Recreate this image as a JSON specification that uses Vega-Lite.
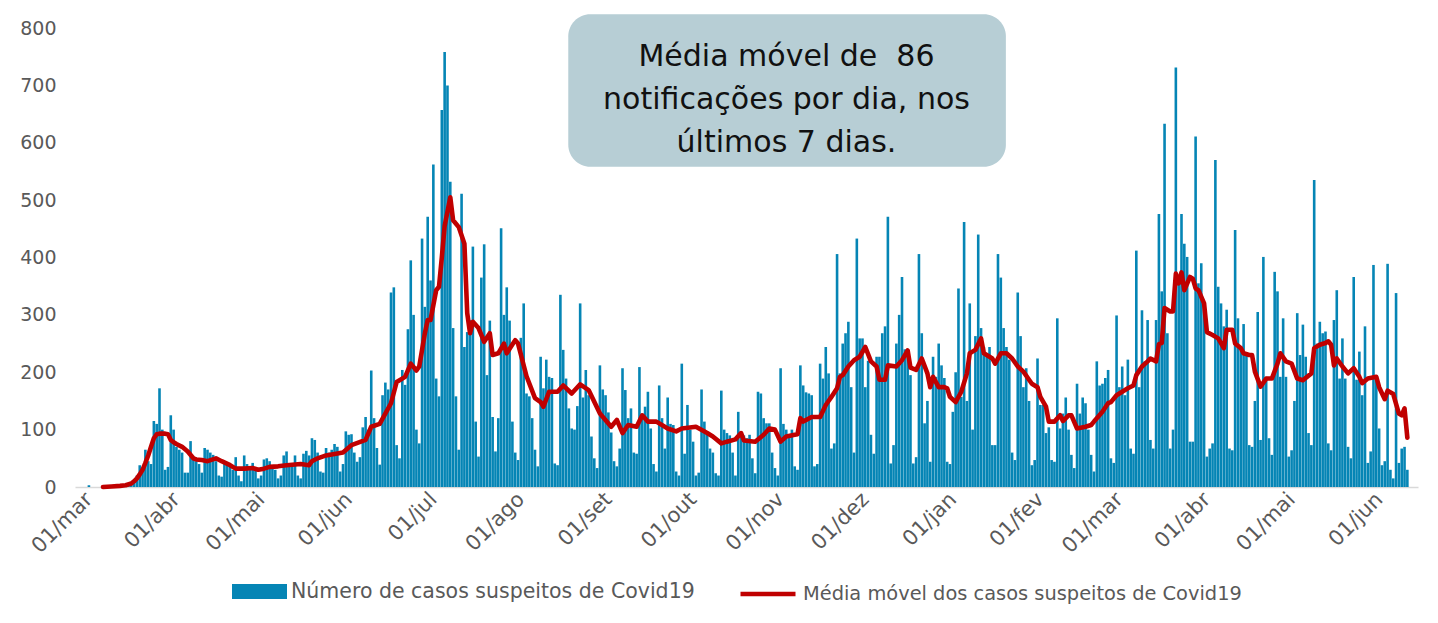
{
"$schema": "https://vega.github.io/schema/vega-lite/v6.json",
"width": 1343, "height": 459,
"autosize": {"type": "none"},
"padding": {"left": 75, "top": 28, "right": 20, "bottom": 136},
"background": "white",
"config": {"view": {"stroke": null}, "font": "DejaVu Sans", "axis": {"labelFont": "DejaVu Sans"}, "legend": {"labelFont": "DejaVu Sans"}},
"resolve": {"axis": {"x": "independent", "y": "independent"}},
"datasets": {
"casos": [
{"d":"2020-03-01","n":3},{"d":"2020-03-02","n":0},{"d":"2020-03-03","n":0},{"d":"2020-03-04","n":0},{"d":"2020-03-05","n":0},{"d":"2020-03-06","n":1},{"d":"2020-03-07","n":0},{"d":"2020-03-08","n":0},{"d":"2020-03-09","n":1},{"d":"2020-03-10","n":1},{"d":"2020-03-11","n":2},{"d":"2020-03-12","n":1},{"d":"2020-03-13","n":2},{"d":"2020-03-14","n":3},{"d":"2020-03-15","n":4},{"d":"2020-03-16","n":6},{"d":"2020-03-17","n":12},{"d":"2020-03-18","n":20},{"d":"2020-03-19","n":38},{"d":"2020-03-20","n":30},{"d":"2020-03-21","n":65},{"d":"2020-03-22","n":45},{"d":"2020-03-23","n":40},{"d":"2020-03-24","n":115},{"d":"2020-03-25","n":110},{"d":"2020-03-26","n":172},{"d":"2020-03-27","n":100},{"d":"2020-03-28","n":30},{"d":"2020-03-29","n":35},{"d":"2020-03-30","n":125},{"d":"2020-03-31","n":100},
{"d":"2020-04-01","n":70},{"d":"2020-04-02","n":65},{"d":"2020-04-03","n":60},{"d":"2020-04-04","n":25},{"d":"2020-04-05","n":25},{"d":"2020-04-06","n":80},{"d":"2020-04-07","n":50},{"d":"2020-04-08","n":45},{"d":"2020-04-09","n":40},{"d":"2020-04-10","n":25},{"d":"2020-04-11","n":68},{"d":"2020-04-12","n":65},{"d":"2020-04-13","n":60},{"d":"2020-04-14","n":56},{"d":"2020-04-15","n":45},{"d":"2020-04-16","n":20},{"d":"2020-04-17","n":18},{"d":"2020-04-18","n":45},{"d":"2020-04-19","n":40},{"d":"2020-04-20","n":35},{"d":"2020-04-21","n":30},{"d":"2020-04-22","n":52},{"d":"2020-04-23","n":20},{"d":"2020-04-24","n":10},{"d":"2020-04-25","n":55},{"d":"2020-04-26","n":40},{"d":"2020-04-27","n":35},{"d":"2020-04-28","n":42},{"d":"2020-04-29","n":30},{"d":"2020-04-30","n":15},
{"d":"2020-05-01","n":20},{"d":"2020-05-02","n":48},{"d":"2020-05-03","n":50},{"d":"2020-05-04","n":45},{"d":"2020-05-05","n":35},{"d":"2020-05-06","n":30},{"d":"2020-05-07","n":15},{"d":"2020-05-08","n":20},{"d":"2020-05-09","n":55},{"d":"2020-05-10","n":62},{"d":"2020-05-11","n":40},{"d":"2020-05-12","n":38},{"d":"2020-05-13","n":55},{"d":"2020-05-14","n":20},{"d":"2020-05-15","n":15},{"d":"2020-05-16","n":58},{"d":"2020-05-17","n":63},{"d":"2020-05-18","n":55},{"d":"2020-05-19","n":85},{"d":"2020-05-20","n":82},{"d":"2020-05-21","n":60},{"d":"2020-05-22","n":27},{"d":"2020-05-23","n":25},{"d":"2020-05-24","n":68},{"d":"2020-05-25","n":60},{"d":"2020-05-26","n":65},{"d":"2020-05-27","n":75},{"d":"2020-05-28","n":70},{"d":"2020-05-29","n":27},{"d":"2020-05-30","n":40},{"d":"2020-05-31","n":97},
{"d":"2020-06-01","n":91},{"d":"2020-06-02","n":92},{"d":"2020-06-03","n":60},{"d":"2020-06-04","n":44},{"d":"2020-06-05","n":52},{"d":"2020-06-06","n":104},{"d":"2020-06-07","n":122},{"d":"2020-06-08","n":100},{"d":"2020-06-09","n":203},{"d":"2020-06-10","n":120},{"d":"2020-06-11","n":68},{"d":"2020-06-12","n":39},{"d":"2020-06-13","n":160},{"d":"2020-06-14","n":182},{"d":"2020-06-15","n":170},{"d":"2020-06-16","n":339},{"d":"2020-06-17","n":348},{"d":"2020-06-18","n":73},{"d":"2020-06-19","n":50},{"d":"2020-06-20","n":204},{"d":"2020-06-21","n":178},{"d":"2020-06-22","n":275},{"d":"2020-06-23","n":395},{"d":"2020-06-24","n":300},{"d":"2020-06-25","n":100},{"d":"2020-06-26","n":76},{"d":"2020-06-27","n":433},{"d":"2020-06-28","n":314},{"d":"2020-06-29","n":471},{"d":"2020-06-30","n":360},
{"d":"2020-07-01","n":562},{"d":"2020-07-02","n":189},{"d":"2020-07-03","n":158},{"d":"2020-07-04","n":657},{"d":"2020-07-05","n":758},{"d":"2020-07-06","n":700},{"d":"2020-07-07","n":532},{"d":"2020-07-08","n":277},{"d":"2020-07-09","n":158},{"d":"2020-07-10","n":65},{"d":"2020-07-11","n":511},{"d":"2020-07-12","n":244},{"d":"2020-07-13","n":270},{"d":"2020-07-14","n":291},{"d":"2020-07-15","n":419},{"d":"2020-07-16","n":114},{"d":"2020-07-17","n":53},{"d":"2020-07-18","n":365},{"d":"2020-07-19","n":423},{"d":"2020-07-20","n":195},{"d":"2020-07-21","n":290},{"d":"2020-07-22","n":122},{"d":"2020-07-23","n":62},{"d":"2020-07-24","n":120},{"d":"2020-07-25","n":451},{"d":"2020-07-26","n":300},{"d":"2020-07-27","n":348},{"d":"2020-07-28","n":290},{"d":"2020-07-29","n":114},{"d":"2020-07-30","n":60},{"d":"2020-07-31","n":47},
{"d":"2020-08-01","n":260},{"d":"2020-08-02","n":320},{"d":"2020-08-03","n":163},{"d":"2020-08-04","n":158},{"d":"2020-08-05","n":120},{"d":"2020-08-06","n":65},{"d":"2020-08-07","n":36},{"d":"2020-08-08","n":227},{"d":"2020-08-09","n":172},{"d":"2020-08-10","n":222},{"d":"2020-08-11","n":192},{"d":"2020-08-12","n":190},{"d":"2020-08-13","n":41},{"d":"2020-08-14","n":38},{"d":"2020-08-15","n":335},{"d":"2020-08-16","n":239},{"d":"2020-08-17","n":189},{"d":"2020-08-18","n":137},{"d":"2020-08-19","n":102},{"d":"2020-08-20","n":100},{"d":"2020-08-21","n":141},{"d":"2020-08-22","n":320},{"d":"2020-08-23","n":156},{"d":"2020-08-24","n":204},{"d":"2020-08-25","n":160},{"d":"2020-08-26","n":88},{"d":"2020-08-27","n":50},{"d":"2020-08-28","n":33},{"d":"2020-08-29","n":212},{"d":"2020-08-30","n":170},{"d":"2020-08-31","n":160},
{"d":"2020-09-01","n":130},{"d":"2020-09-02","n":95},{"d":"2020-09-03","n":45},{"d":"2020-09-04","n":36},{"d":"2020-09-05","n":67},{"d":"2020-09-06","n":207},{"d":"2020-09-07","n":169},{"d":"2020-09-08","n":120},{"d":"2020-09-09","n":137},{"d":"2020-09-10","n":60},{"d":"2020-09-11","n":58},{"d":"2020-09-12","n":209},{"d":"2020-09-13","n":125},{"d":"2020-09-14","n":140},{"d":"2020-09-15","n":166},{"d":"2020-09-16","n":102},{"d":"2020-09-17","n":40},{"d":"2020-09-18","n":27},{"d":"2020-09-19","n":177},{"d":"2020-09-20","n":120},{"d":"2020-09-21","n":67},{"d":"2020-09-22","n":156},{"d":"2020-09-23","n":110},{"d":"2020-09-24","n":108},{"d":"2020-09-25","n":27},{"d":"2020-09-26","n":20},{"d":"2020-09-27","n":215},{"d":"2020-09-28","n":58},{"d":"2020-09-29","n":143},{"d":"2020-09-30","n":100},
{"d":"2020-10-01","n":79},{"d":"2020-10-02","n":20},{"d":"2020-10-03","n":25},{"d":"2020-10-04","n":170},{"d":"2020-10-05","n":114},{"d":"2020-10-06","n":94},{"d":"2020-10-07","n":67},{"d":"2020-10-08","n":60},{"d":"2020-10-09","n":24},{"d":"2020-10-10","n":20},{"d":"2020-10-11","n":168},{"d":"2020-10-12","n":100},{"d":"2020-10-13","n":94},{"d":"2020-10-14","n":90},{"d":"2020-10-15","n":60},{"d":"2020-10-16","n":20},{"d":"2020-10-17","n":131},{"d":"2020-10-18","n":88},{"d":"2020-10-19","n":90},{"d":"2020-10-20","n":85},{"d":"2020-10-21","n":91},{"d":"2020-10-22","n":50},{"d":"2020-10-23","n":24},{"d":"2020-10-24","n":166},{"d":"2020-10-25","n":163},{"d":"2020-10-26","n":120},{"d":"2020-10-27","n":111},{"d":"2020-10-28","n":111},{"d":"2020-10-29","n":60},{"d":"2020-10-30","n":33},{"d":"2020-10-31","n":20},
{"d":"2020-11-01","n":207},{"d":"2020-11-02","n":110},{"d":"2020-11-03","n":100},{"d":"2020-11-04","n":90},{"d":"2020-11-05","n":100},{"d":"2020-11-06","n":36},{"d":"2020-11-07","n":30},{"d":"2020-11-08","n":212},{"d":"2020-11-09","n":177},{"d":"2020-11-10","n":165},{"d":"2020-11-11","n":163},{"d":"2020-11-12","n":160},{"d":"2020-11-13","n":36},{"d":"2020-11-14","n":40},{"d":"2020-11-15","n":215},{"d":"2020-11-16","n":189},{"d":"2020-11-17","n":244},{"d":"2020-11-18","n":198},{"d":"2020-11-19","n":67},{"d":"2020-11-20","n":76},{"d":"2020-11-21","n":406},{"d":"2020-11-22","n":198},{"d":"2020-11-23","n":250},{"d":"2020-11-24","n":268},{"d":"2020-11-25","n":288},{"d":"2020-11-26","n":174},{"d":"2020-11-27","n":60},{"d":"2020-11-28","n":433},{"d":"2020-11-29","n":259},{"d":"2020-11-30","n":259},
{"d":"2020-12-01","n":174},{"d":"2020-12-02","n":220},{"d":"2020-12-03","n":91},{"d":"2020-12-04","n":58},{"d":"2020-12-05","n":227},{"d":"2020-12-06","n":227},{"d":"2020-12-07","n":268},{"d":"2020-12-08","n":280},{"d":"2020-12-09","n":471},{"d":"2020-12-10","n":41},{"d":"2020-12-11","n":73},{"d":"2020-12-12","n":250},{"d":"2020-12-13","n":300},{"d":"2020-12-14","n":366},{"d":"2020-12-15","n":240},{"d":"2020-12-16","n":240},{"d":"2020-12-17","n":195},{"d":"2020-12-18","n":41},{"d":"2020-12-19","n":52},{"d":"2020-12-20","n":406},{"d":"2020-12-21","n":268},{"d":"2020-12-22","n":111},{"d":"2020-12-23","n":150},{"d":"2020-12-24","n":44},{"d":"2020-12-25","n":227},{"d":"2020-12-26","n":192},{"d":"2020-12-27","n":250},{"d":"2020-12-28","n":212},{"d":"2020-12-29","n":190},{"d":"2020-12-30","n":44},{"d":"2020-12-31","n":40},
{"d":"2021-01-01","n":131},{"d":"2021-01-02","n":200},{"d":"2021-01-03","n":346},{"d":"2021-01-04","n":157},{"d":"2021-01-05","n":462},{"d":"2021-01-06","n":150},{"d":"2021-01-07","n":320},{"d":"2021-01-08","n":100},{"d":"2021-01-09","n":263},{"d":"2021-01-10","n":440},{"d":"2021-01-11","n":277},{"d":"2021-01-12","n":244},{"d":"2021-01-13","n":230},{"d":"2021-01-14","n":244},{"d":"2021-01-15","n":73},{"d":"2021-01-16","n":73},{"d":"2021-01-17","n":406},{"d":"2021-01-18","n":365},{"d":"2021-01-19","n":277},{"d":"2021-01-20","n":244},{"d":"2021-01-21","n":222},{"d":"2021-01-22","n":60},{"d":"2021-01-23","n":47},{"d":"2021-01-24","n":339},{"d":"2021-01-25","n":263},{"d":"2021-01-26","n":174},{"d":"2021-01-27","n":207},{"d":"2021-01-28","n":150},{"d":"2021-01-29","n":38},{"d":"2021-01-30","n":47},{"d":"2021-01-31","n":224},
{"d":"2021-02-01","n":143},{"d":"2021-02-02","n":143},{"d":"2021-02-03","n":94},{"d":"2021-02-04","n":104},{"d":"2021-02-05","n":47},{"d":"2021-02-06","n":44},{"d":"2021-02-07","n":294},{"d":"2021-02-08","n":102},{"d":"2021-02-09","n":128},{"d":"2021-02-10","n":156},{"d":"2021-02-11","n":100},{"d":"2021-02-12","n":56},{"d":"2021-02-13","n":33},{"d":"2021-02-14","n":180},{"d":"2021-02-15","n":128},{"d":"2021-02-16","n":156},{"d":"2021-02-17","n":146},{"d":"2021-02-18","n":100},{"d":"2021-02-19","n":56},{"d":"2021-02-20","n":27},{"d":"2021-02-21","n":219},{"d":"2021-02-22","n":177},{"d":"2021-02-23","n":180},{"d":"2021-02-24","n":190},{"d":"2021-02-25","n":204},{"d":"2021-02-26","n":50},{"d":"2021-02-27","n":42},{"d":"2021-02-28","n":299},
{"d":"2021-03-01","n":174},{"d":"2021-03-02","n":210},{"d":"2021-03-03","n":160},{"d":"2021-03-04","n":222},{"d":"2021-03-05","n":67},{"d":"2021-03-06","n":58},{"d":"2021-03-07","n":412},{"d":"2021-03-08","n":174},{"d":"2021-03-09","n":308},{"d":"2021-03-10","n":219},{"d":"2021-03-11","n":291},{"d":"2021-03-12","n":82},{"d":"2021-03-13","n":67},{"d":"2021-03-14","n":291},{"d":"2021-03-15","n":476},{"d":"2021-03-16","n":341},{"d":"2021-03-17","n":633},{"d":"2021-03-18","n":268},{"d":"2021-03-19","n":67},{"d":"2021-03-20","n":100},{"d":"2021-03-21","n":731},{"d":"2021-03-22","n":361},{"d":"2021-03-23","n":476},{"d":"2021-03-24","n":424},{"d":"2021-03-25","n":401},{"d":"2021-03-26","n":79},{"d":"2021-03-27","n":79},{"d":"2021-03-28","n":611},{"d":"2021-03-29","n":355},{"d":"2021-03-30","n":390},{"d":"2021-03-31","n":320},
{"d":"2021-04-01","n":53},{"d":"2021-04-02","n":67},{"d":"2021-04-03","n":76},{"d":"2021-04-04","n":570},{"d":"2021-04-05","n":349},{"d":"2021-04-06","n":320},{"d":"2021-04-07","n":280},{"d":"2021-04-08","n":309},{"d":"2021-04-09","n":67},{"d":"2021-04-10","n":64},{"d":"2021-04-11","n":448},{"d":"2021-04-12","n":294},{"d":"2021-04-13","n":238},{"d":"2021-04-14","n":284},{"d":"2021-04-15","n":233},{"d":"2021-04-16","n":73},{"d":"2021-04-17","n":70},{"d":"2021-04-18","n":150},{"d":"2021-04-19","n":305},{"d":"2021-04-20","n":82},{"d":"2021-04-21","n":401},{"d":"2021-04-22","n":192},{"d":"2021-04-23","n":85},{"d":"2021-04-24","n":56},{"d":"2021-04-25","n":375},{"d":"2021-04-26","n":341},{"d":"2021-04-27","n":192},{"d":"2021-04-28","n":294},{"d":"2021-04-29","n":192},{"d":"2021-04-30","n":53},
{"d":"2021-05-01","n":64},{"d":"2021-05-02","n":150},{"d":"2021-05-03","n":303},{"d":"2021-05-04","n":230},{"d":"2021-05-05","n":283},{"d":"2021-05-06","n":227},{"d":"2021-05-07","n":94},{"d":"2021-05-08","n":73},{"d":"2021-05-09","n":535},{"d":"2021-05-10","n":250},{"d":"2021-05-11","n":288},{"d":"2021-05-12","n":268},{"d":"2021-05-13","n":271},{"d":"2021-05-14","n":76},{"d":"2021-05-15","n":64},{"d":"2021-05-16","n":291},{"d":"2021-05-17","n":343},{"d":"2021-05-18","n":189},{"d":"2021-05-19","n":259},{"d":"2021-05-20","n":189},{"d":"2021-05-21","n":70},{"d":"2021-05-22","n":50},{"d":"2021-05-23","n":366},{"d":"2021-05-24","n":187},{"d":"2021-05-25","n":236},{"d":"2021-05-26","n":160},{"d":"2021-05-27","n":280},{"d":"2021-05-28","n":42},{"d":"2021-05-29","n":62},{"d":"2021-05-30","n":387},{"d":"2021-05-31","n":189},
{"d":"2021-06-01","n":102},{"d":"2021-06-02","n":38},{"d":"2021-06-03","n":45},{"d":"2021-06-04","n":389},{"d":"2021-06-05","n":30},{"d":"2021-06-06","n":15},{"d":"2021-06-07","n":338},{"d":"2021-06-08","n":42},{"d":"2021-06-09","n":67},{"d":"2021-06-10","n":70},{"d":"2021-06-11","n":30}
],
"media": [
{"d":"2020-03-06","m":0},{"d":"2020-03-09","m":1},{"d":"2020-03-12","m":2},{"d":"2020-03-14","m":3},{"d":"2020-03-16","m":6},{"d":"2020-03-17","m":10},{"d":"2020-03-18","m":15},{"d":"2020-03-19","m":22},{"d":"2020-03-20","m":30},{"d":"2020-03-21","m":42},{"d":"2020-03-22","m":55},{"d":"2020-03-23","m":70},{"d":"2020-03-24","m":85},{"d":"2020-03-25","m":92},{"d":"2020-03-26","m":93},{"d":"2020-03-28","m":93},{"d":"2020-03-29","m":92},{"d":"2020-03-30","m":82},{"d":"2020-03-31","m":78},
{"d":"2020-04-01","m":75},{"d":"2020-04-03","m":70},{"d":"2020-04-05","m":62},{"d":"2020-04-07","m":50},{"d":"2020-04-08","m":48},{"d":"2020-04-10","m":47},{"d":"2020-04-12","m":45},{"d":"2020-04-15","m":50},{"d":"2020-04-17","m":45},{"d":"2020-04-20","m":38},{"d":"2020-04-22","m":32},{"d":"2020-04-25","m":32},{"d":"2020-04-28","m":33},{"d":"2020-04-30","m":30},
{"d":"2020-05-02","m":32},{"d":"2020-05-04","m":35},{"d":"2020-05-07","m":36},{"d":"2020-05-10","m":38},{"d":"2020-05-15","m":40},{"d":"2020-05-18","m":38},{"d":"2020-05-19","m":45},{"d":"2020-05-21","m":50},{"d":"2020-05-24","m":55},{"d":"2020-05-30","m":60},
{"d":"2020-06-02","m":73},{"d":"2020-06-07","m":82},{"d":"2020-06-09","m":105},{"d":"2020-06-12","m":110},{"d":"2020-06-16","m":146},{"d":"2020-06-18","m":183},{"d":"2020-06-21","m":192},{"d":"2020-06-23","m":215},{"d":"2020-06-25","m":203},{"d":"2020-06-26","m":210},{"d":"2020-06-28","m":268},{"d":"2020-06-29","m":291},{"d":"2020-06-30","m":291},
{"d":"2020-07-02","m":343},{"d":"2020-07-03","m":349},{"d":"2020-07-04","m":400},{"d":"2020-07-05","m":455},{"d":"2020-07-06","m":480},{"d":"2020-07-07","m":505},{"d":"2020-07-08","m":465},{"d":"2020-07-10","m":453},{"d":"2020-07-12","m":424},{"d":"2020-07-13","m":303},{"d":"2020-07-14","m":268},{"d":"2020-07-15","m":288},{"d":"2020-07-17","m":277},{"d":"2020-07-19","m":253},{"d":"2020-07-21","m":268},{"d":"2020-07-22","m":230},{"d":"2020-07-24","m":233},{"d":"2020-07-26","m":250},{"d":"2020-07-27","m":233},{"d":"2020-07-30","m":256},{"d":"2020-07-31","m":250},
{"d":"2020-08-03","m":193},{"d":"2020-08-06","m":155},{"d":"2020-08-08","m":148},{"d":"2020-08-09","m":140},{"d":"2020-08-11","m":166},{"d":"2020-08-14","m":166},{"d":"2020-08-16","m":177},{"d":"2020-08-19","m":163},{"d":"2020-08-22","m":179},{"d":"2020-08-25","m":169},{"d":"2020-08-29","m":128},
{"d":"2020-09-02","m":105},{"d":"2020-09-04","m":117},{"d":"2020-09-06","m":94},{"d":"2020-09-08","m":108},{"d":"2020-09-11","m":105},{"d":"2020-09-13","m":125},{"d":"2020-09-15","m":114},{"d":"2020-09-18","m":114},{"d":"2020-09-22","m":102},{"d":"2020-09-25","m":97},{"d":"2020-09-27","m":102},
{"d":"2020-10-02","m":105},{"d":"2020-10-06","m":94},{"d":"2020-10-08","m":88},{"d":"2020-10-11","m":76},{"d":"2020-10-13","m":79},{"d":"2020-10-16","m":83},{"d":"2020-10-18","m":94},{"d":"2020-10-19","m":81},{"d":"2020-10-23","m":79},{"d":"2020-10-26","m":91},{"d":"2020-10-28","m":102},{"d":"2020-10-30","m":100},
{"d":"2020-11-01","m":79},{"d":"2020-11-03","m":88},{"d":"2020-11-06","m":91},{"d":"2020-11-07","m":92},{"d":"2020-11-08","m":120},{"d":"2020-11-09","m":114},{"d":"2020-11-12","m":122},{"d":"2020-11-15","m":122},{"d":"2020-11-17","m":143},{"d":"2020-11-19","m":157},{"d":"2020-11-21","m":172},{"d":"2020-11-22","m":192},{"d":"2020-11-23","m":195},{"d":"2020-11-25","m":210},{"d":"2020-11-27","m":221},{"d":"2020-11-29","m":227},
{"d":"2020-12-01","m":244},{"d":"2020-12-03","m":219},{"d":"2020-12-05","m":210},{"d":"2020-12-06","m":187},{"d":"2020-12-08","m":187},{"d":"2020-12-09","m":212},{"d":"2020-12-12","m":210},{"d":"2020-12-14","m":221},{"d":"2020-12-16","m":238},{"d":"2020-12-17","m":208},{"d":"2020-12-19","m":204},{"d":"2020-12-21","m":224},{"d":"2020-12-23","m":198},{"d":"2020-12-24","m":174},{"d":"2020-12-25","m":192},{"d":"2020-12-27","m":174},{"d":"2020-12-29","m":174},{"d":"2020-12-30","m":172},{"d":"2020-12-31","m":157},
{"d":"2021-01-02","m":148},{"d":"2021-01-04","m":166},{"d":"2021-01-06","m":198},{"d":"2021-01-07","m":233},{"d":"2021-01-09","m":239},{"d":"2021-01-11","m":259},{"d":"2021-01-12","m":233},{"d":"2021-01-15","m":224},{"d":"2021-01-16","m":215},{"d":"2021-01-18","m":233},{"d":"2021-01-20","m":233},{"d":"2021-01-22","m":224},{"d":"2021-01-24","m":210},{"d":"2021-01-26","m":201},{"d":"2021-01-28","m":187},{"d":"2021-01-29","m":180},{"d":"2021-01-31","m":174},
{"d":"2021-02-01","m":157},{"d":"2021-02-03","m":140},{"d":"2021-02-04","m":114},{"d":"2021-02-06","m":114},{"d":"2021-02-08","m":125},{"d":"2021-02-09","m":115},{"d":"2021-02-11","m":125},{"d":"2021-02-12","m":125},{"d":"2021-02-14","m":102},{"d":"2021-02-17","m":105},{"d":"2021-02-19","m":108},{"d":"2021-02-20","m":114},{"d":"2021-02-23","m":131},{"d":"2021-02-25","m":146},{"d":"2021-02-26","m":148},{"d":"2021-02-28","m":160},
{"d":"2021-03-02","m":166},{"d":"2021-03-04","m":172},{"d":"2021-03-06","m":177},{"d":"2021-03-07","m":195},{"d":"2021-03-09","m":210},{"d":"2021-03-11","m":219},{"d":"2021-03-12","m":224},{"d":"2021-03-14","m":219},{"d":"2021-03-15","m":249},{"d":"2021-03-16","m":251},{"d":"2021-03-17","m":312},{"d":"2021-03-19","m":306},{"d":"2021-03-20","m":306},{"d":"2021-03-21","m":372},{"d":"2021-03-22","m":355},{"d":"2021-03-23","m":374},{"d":"2021-03-24","m":343},{"d":"2021-03-26","m":366},{"d":"2021-03-27","m":363},{"d":"2021-03-28","m":346},{"d":"2021-03-29","m":343},{"d":"2021-03-31","m":320},
{"d":"2021-04-01","m":270},{"d":"2021-04-03","m":265},{"d":"2021-04-05","m":259},{"d":"2021-04-07","m":242},{"d":"2021-04-08","m":274},{"d":"2021-04-10","m":274},{"d":"2021-04-11","m":250},{"d":"2021-04-13","m":242},{"d":"2021-04-14","m":233},{"d":"2021-04-16","m":230},{"d":"2021-04-17","m":230},{"d":"2021-04-18","m":201},{"d":"2021-04-20","m":175},{"d":"2021-04-22","m":189},{"d":"2021-04-24","m":189},{"d":"2021-04-26","m":215},{"d":"2021-04-27","m":233},{"d":"2021-04-29","m":219},
{"d":"2021-05-01","m":215},{"d":"2021-05-03","m":189},{"d":"2021-05-05","m":186},{"d":"2021-05-08","m":198},{"d":"2021-05-09","m":242},{"d":"2021-05-11","m":248},{"d":"2021-05-13","m":251},{"d":"2021-05-14","m":254},{"d":"2021-05-15","m":248},{"d":"2021-05-16","m":212},{"d":"2021-05-17","m":224},{"d":"2021-05-19","m":210},{"d":"2021-05-21","m":198},{"d":"2021-05-23","m":207},{"d":"2021-05-25","m":192},{"d":"2021-05-26","m":181},{"d":"2021-05-28","m":189},{"d":"2021-05-31","m":192},
{"d":"2021-06-01","m":174},{"d":"2021-06-03","m":153},{"d":"2021-06-04","m":168},{"d":"2021-06-06","m":162},{"d":"2021-06-08","m":128},{"d":"2021-06-09","m":125},{"d":"2021-06-10","m":137},{"d":"2021-06-11","m":86}
]
},
"layer": [
{
"data": {"name": "casos"},
"mark": {"type": "bar", "width": 2.6},
"encoding": {
"x": {"field": "d", "type": "temporal",
"scale": {"type": "utc", "domain": [{"year": 2020, "month": 2, "date": 26, "hours": 20, "minutes": 10, "utc": true}, {"year": 2021, "month": 6, "date": 13, "utc": true}]},
"axis": {"title": null, "grid": false, "ticks": false, "domainColor": "#D9D9D9", "domainWidth": 1.3,
"values": [{"year":2020,"month":3,"date":1,"utc":true},{"year":2020,"month":4,"date":1,"utc":true},{"year":2020,"month":5,"date":1,"utc":true},{"year":2020,"month":6,"date":1,"utc":true},{"year":2020,"month":7,"date":1,"utc":true},{"year":2020,"month":8,"date":1,"utc":true},{"year":2020,"month":9,"date":1,"utc":true},{"year":2020,"month":10,"date":1,"utc":true},{"year":2020,"month":11,"date":1,"utc":true},{"year":2020,"month":12,"date":1,"utc":true},{"year":2021,"month":1,"date":1,"utc":true},{"year":2021,"month":2,"date":1,"utc":true},{"year":2021,"month":3,"date":1,"utc":true},{"year":2021,"month":4,"date":1,"utc":true},{"year":2021,"month":5,"date":1,"utc":true},{"year":2021,"month":6,"date":1,"utc":true}],
"labelExpr": "'01/' + ['jan','fev','mar','abr','mai','jun','jul','ago','set','out','nov','dez'][utcmonth(datum.value)]",
"labelAngle": -45, "labelAlign": "right", "labelBaseline": "middle", "labelFontSize": 21, "labelColor": "#595959", "labelPadding": 9, "labelOverlap": false, "labelBound": false, "labelFlush": false}},
"y": {"field": "n", "type": "quantitative", "scale": {"domain": [0, 800], "nice": false},
"axis": {"title": null, "grid": false, "ticks": false, "domain": false, "values": [0,100,200,300,400,500,600,700,800], "labelFontSize": 19, "labelColor": "#595959", "labelPadding": 19}},
"fill": {"datum": "Número de casos suspeitos de Covid19", "type": "nominal", "scale": {"range": ["#0585B5"]},
"legend": {"orient": "none", "legendX": 157, "legendY": 536, "title": null, "padding": 0, "symbolType": "M-1,-0.27L1,-0.27L1,0.27L-1,0.27Z", "symbolSize": 3025, "symbolStrokeWidth": 0, "symbolOpacity": 1, "labelFontSize": 20.5, "labelColor": "#595959", "labelOffset": 4, "labelLimit": 0}}
}
},
{
"data": {"name": "media"},
"mark": {"type": "line", "strokeWidth": 4.6, "strokeJoin": "round", "strokeCap": "round"},
"encoding": {
"x": {"field": "d", "type": "temporal", "axis": null},
"y": {"field": "m", "type": "quantitative", "axis": null},
"stroke": {"datum": "Média móvel dos casos suspeitos de Covid19", "type": "nominal", "scale": {"range": ["#C00000"]},
"legend": {"orient": "none", "legendX": 663, "legendY": 536, "title": null, "padding": 0, "symbolType": "stroke", "symbolSize": 3025, "symbolStrokeWidth": 4.5, "labelFontSize": 19.4, "labelColor": "#595959", "labelOffset": 5, "labelLimit": 0}}
}
},
{
"data": {"values": [{}]},
"mark": {"type": "rect", "cornerRadius": 22, "fill": "#B7CED5"},
"encoding": {
"x": {"datum": {"year": 2020, "month": 8, "date": 17, "hours": 19, "utc": true}, "type": "temporal", "axis": null},
"x2": {"datum": {"year": 2021, "month": 1, "date": 19, "hours": 19, "utc": true}},
"y": {"datum": 558, "type": "quantitative", "axis": null},
"y2": {"datum": 824}
}
},
{
"data": {"values": [{}]},
"mark": {"type": "text", "lineBreak": "\n", "lineHeight": 43, "fontSize": 30, "font": "DejaVu Sans", "color": "#111111", "align": "center", "baseline": "middle"},
"encoding": {
"x": {"datum": {"year": 2020, "month": 11, "date": 3, "hours": 2, "utc": true}, "type": "temporal", "axis": null},
"y": {"datum": 749, "type": "quantitative", "axis": null},
"text": {"value": "Média móvel de \u00a086\nnotificações por dia, nos\núltimos 7 dias."}
}
}
]
}
